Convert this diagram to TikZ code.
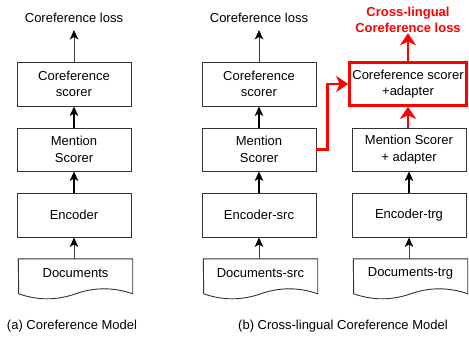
\documentclass[tikz,border=0pt]{standalone}
\usepackage{fontspec}
\setmainfont{Liberation Sans}
\usetikzlibrary{arrows.meta}
\newcommand\mydoc[3]{%
  \node[lbl, minimum width=114pt, minimum height=28pt] (#1) at (#2,273) {#3};
  \draw[docline] (#1.north west) -- (#1.north east) -- ++(0,35)
    .. controls +(-19,-6.67) and +(19,-6.67) .. ++(-57,0)
    .. controls +(-19,6.67) and +(19,6.67) .. ++(-57,0) -- cycle;
}
\begin{document}
\begin{tikzpicture}[x=1pt,y=-1pt,
  lbl/.style={font=\fontsize{13}{16.5}\selectfont, align=center, inner sep=0pt},
  box/.style={lbl, draw=black!80, line width=0.9pt, minimum width=114pt, minimum height=44pt},
  redbox/.style={lbl, draw=red, line width=2.6pt, minimum width=117pt, minimum height=43pt},
  docline/.style={draw=black!80, line width=0.9pt},
  thinarr/.style={-{Stealth[length=9.5pt,width=8.5pt,inset=2.5pt,fill=black,color=black]}, line width=0.9pt, black!75},
  thickarr/.style={-{Stealth[length=9.5pt,width=8.5pt,inset=2.5pt]}, line width=1.9pt, black},
  redarr/.style={-{Stealth[length=12pt,width=16pt,inset=3.5pt]}, line width=2.6pt, red}]
\useasboundingbox (0,0) rectangle (469,338);

% column (a)
\node[lbl] (loss1) at (74,18) {Coreference loss};
\node[box] (coref1) at (74,84) {Coreference\\scorer};
\node[box, minimum height=43pt] (men1) at (74,149.5) {Mention\\Scorer};
\node[box] (enc1) at (74,215) {Encoder};
\mydoc{doc1}{75.5}{Documents}

% column (b) src
\node[lbl] (loss2) at (259,18) {Coreference loss};
\node[box] (coref2) at (259,84) {Coreference\\scorer};
\node[box, minimum height=43pt] (men2) at (259,149.5) {Mention\\Scorer};
\node[box] (enc2) at (259,215) {Encoder-src};
\mydoc{doc2}{260.5}{Documents-src}

% column (b) trg
\node[lbl, font=\fontsize{13}{16.5}\selectfont\bfseries, text=red] (loss3) at (408,20) {Cross-lingual\\Coreference loss};
\node[redbox] (coref3) at (408,84) {Coreference scorer\\+adapter};
\node[box, minimum height=43pt] (men3) at (409,149.5) {Mention Scorer\\+ adapter};
\node[box] (enc3) at (409,215) {Encoder-trg};
\mydoc{doc3}{410.5}{Documents-trg}

% captions
\node[lbl] (capa) at (72,326) {(a) Coreference Model};
\node[lbl] (capb) at (343,326) {(b) Cross-lingual Coreference Model};

% arrows (a)
\draw[thinarr, shorten >=7pt] (coref1.north) -- (loss1.south);
\draw[thickarr] (men1.north) -- (coref1.south);
\draw[thickarr] (enc1.north) -- (men1.south);
\draw[thinarr] (doc1.north -| enc1.south) -- (enc1.south);

% arrows (b)
\draw[thinarr, shorten >=7pt] (coref2.north) -- (loss2.south);
\draw[thickarr] (men2.north) -- (coref2.south);
\draw[thickarr] (enc2.north) -- (men2.south);
\draw[thinarr] (doc2.north -| enc2.south) -- (enc2.south);

\draw[thickarr] (enc3.north) -- (men3.south);
\draw[thinarr] (doc3.north -| enc3.south) -- (enc3.south);

% red arrows
\draw[redarr] (coref3.north) -- (loss3.south);
\draw[redarr] (men3.north -| coref3.south) -- (coref3.south);
\draw[redarr] (men2.east) -- ++(11,0) |- (coref3.west);
\end{tikzpicture}
\end{document}
